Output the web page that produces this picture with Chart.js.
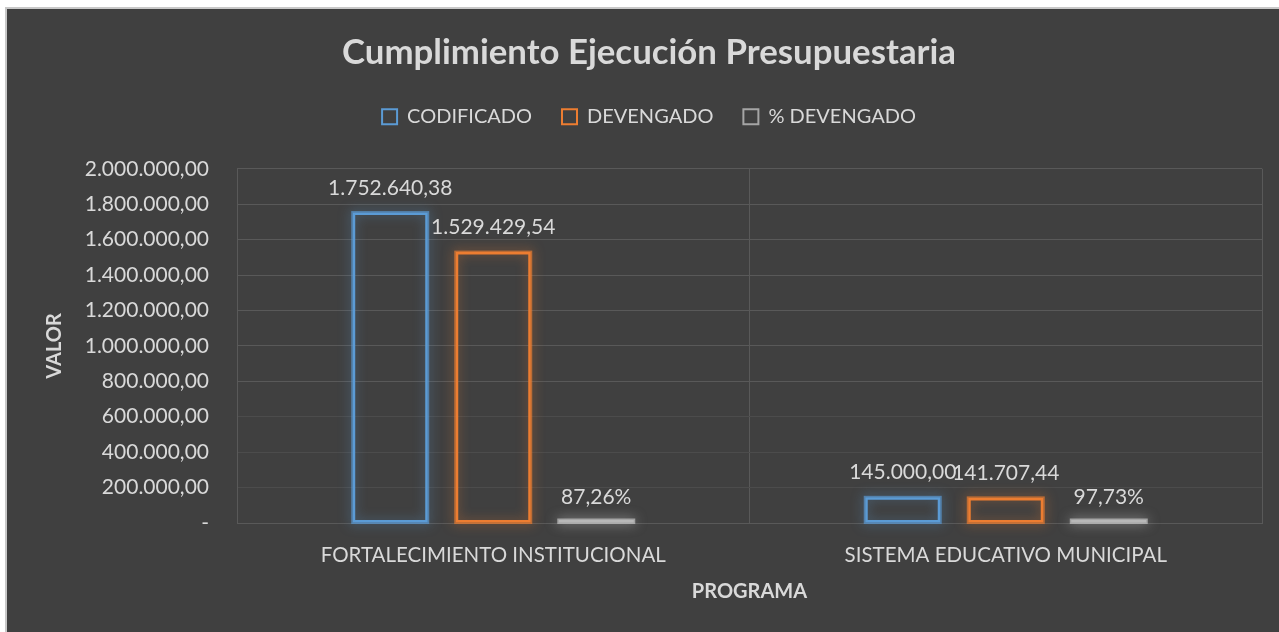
<!DOCTYPE html>
<html><head><meta charset="utf-8">
<script src="https://cdn.jsdelivr.net/npm/chart.js@4.4.1/dist/chart.umd.min.js"></script>
<style>html,body{margin:0;padding:0;background:#fff;overflow:hidden}#wrap{width:1279px;height:632px;position:relative}</style>
</head><body><div id="wrap"><canvas id="c" width="1279" height="632"></canvas></div>
<script>
const chartTitle = 'Cumplimiento Ejecución Presupuestaria';
const categories = ['FORTALECIMIENTO INSTITUCIONAL', 'SISTEMA EDUCATIVO MUNICIPAL'];
const seriesNames = ['CODIFICADO', 'DEVENGADO', '% DEVENGADO'];
const codificado = [1752640.38, 145000.00];
const devengado = [1529429.54, 141707.44];
const pctDevengado = [0.8726, 0.9773];
const yMin = 0, yMax = 2000000, yStep = 200000;
const xTitle = 'PROGRAMA';
const yTitle = 'VALOR';

const BLUE = '#5b9bd5', ORANGE = '#ed7d31', GRAY = '#a5a5a5';
const TXT = '#d9d9d9';
const FONT = 'Lato, "Open Sans", sans-serif';

function fmtNum(v) {
  const p = Math.abs(v).toFixed(2).split('.');
  p[0] = p[0].replace(/\B(?=(\d{3})+(?!\d))/g, '.');
  return p.join(',');
}
function fmtPct(v) { return (v * 100).toFixed(2).replace('.', ',') + '%'; }

const bgPlugin = {
  id: 'bg',
  beforeDraw(chart) {
    const ctx = chart.ctx;
    ctx.save();
    ctx.fillStyle = '#ffffff';
    ctx.fillRect(0, 0, chart.width, chart.height);
    ctx.fillStyle = '#c8c8c8';
    ctx.fillRect(5, 7, chart.width - 5, chart.height - 7);
    ctx.fillStyle = '#404040';
    ctx.fillRect(7, 9, chart.width - 7, chart.height - 9);
    ctx.restore();
  }
};

const glowPlugin = {
  id: 'glow',
  beforeDatasetDraw(chart, args) {
    const ctx = chart.ctx;
    const ds = chart.data.datasets[args.index];
    const col = ds.glowColor;
    ctx.save();
    ctx.shadowColor = col;
    ctx.shadowBlur = 12;
    ctx.strokeStyle = col;
    ctx.lineWidth = 3;
    args.meta.data.forEach(el => {
      const p = el.getProps(['x', 'y', 'base', 'width'], true);
      const top = Math.min(p.y, p.base), h = Math.abs(p.base - p.y);
      ctx.globalAlpha = 0.75;
      ctx.strokeRect(p.x - p.width / 2, top, p.width, h);
    });
    ctx.restore();
  }
};

const labelPlugin = {
  id: 'vlabels',
  afterDatasetsDraw(chart) {
    const ctx = chart.ctx;
    ctx.save();
    ctx.font = '21px ' + FONT;
    ctx.fillStyle = TXT;
    ctx.textAlign = 'center';
    ctx.textBaseline = 'alphabetic';
    chart.data.datasets.forEach((ds, i) => {
      const meta = chart.getDatasetMeta(i);
      meta.data.forEach((el, j) => {
        const v = ds.data[j];
        const t = ds.isPct ? fmtPct(v) : fmtNum(v);
        ctx.fillText(t, el.x, Math.min(el.y, el.base) - (ds.isPct ? 16 : 18));
      });
    });
    ctx.restore();
  }
};

const legendColors = [BLUE, ORANGE, GRAY];

new Chart(document.getElementById('c'), {
  type: 'bar',
  data: {
    labels: categories,
    datasets: [
      { label: seriesNames[0], data: codificado, yAxisID: 'y', backgroundColor: 'rgba(0,0,0,0)', borderColor: BLUE, borderWidth: 2.5, borderSkipped: false, glowColor: 'rgba(91,155,213,0.9)' },
      { label: seriesNames[1], data: devengado, yAxisID: 'y', backgroundColor: 'rgba(0,0,0,0)', borderColor: ORANGE, borderWidth: 2.5, borderSkipped: false, glowColor: 'rgba(237,125,49,0.9)' },
      { label: seriesNames[2], data: pctDevengado, yAxisID: 'y', isPct: true, backgroundColor: '#b8b8b8', borderWidth: 0, minBarLength: 3, glowColor: 'rgba(200,200,200,0.9)' }
    ]
  },
  options: {
    responsive: false,
    animation: false,
    devicePixelRatio: 1,
    categoryPercentage: 0.603,
    barPercentage: 0.728,
    layout: { padding: { left: 19, right: 0, top: 0, bottom: 0 } },
    plugins: {
      tooltip: { enabled: false },
      title: {
        display: true, text: chartTitle, color: TXT,
        font: { family: FONT, size: 34.8, weight: 'bold', lineHeight: 1.2 },
        padding: { top: 32, bottom: 3 }
      },
      subtitle: {
        display: true, text: '', weight: 500,
        font: { size: 1, lineHeight: 1 },
        padding: { top: 0, bottom: 31 }
      },
      legend: {
        display: true, position: 'top', align: 'center',
        labels: {
          color: TXT, boxWidth: 15, boxHeight: 15, padding: 30,
          font: { family: FONT, size: 20 },
          generateLabels(chart) {
            return chart.data.datasets.map((ds, i) => ({
              text: ds.label, fillStyle: 'rgba(0,0,0,0)', strokeStyle: legendColors[i],
              lineWidth: 2, hidden: false, datasetIndex: i, fontColor: TXT
            }));
          }
        }
      }
    },
    scales: {
      x: {
        grid: { display: true, color: '#595959', lineWidth: 1, drawTicks: false, offset: true },
        border: { display: true, color: '#595959' },
        ticks: { color: TXT, font: { family: FONT, size: 20.5 }, padding: 20 },
        title: { display: true, text: xTitle, color: TXT, font: { family: FONT, size: 20, weight: 'bold', lineHeight: 1.2 }, padding: { top: 0, bottom: 28 } },
        afterFit(scale) { scale.height = 109; }
      },
      y: {
        position: 'left',
        min: yMin, max: yMax,
        grid: { color: ctx => (ctx.tick && ctx.tick.value <= 600000 && ctx.tick.value > 0) ? '#4c4c4c' : '#595959', drawTicks: false },
        border: { display: true, color: '#595959' },
        ticks: {
          stepSize: yStep, color: TXT, font: { family: FONT, size: 21 }, padding: 28,
          callback: v => v === 0 ? '-' : fmtNum(v)
        },
        title: { display: true, text: yTitle, color: TXT, font: { family: FONT, size: 20, weight: 'bold', lineHeight: 1.2 }, padding: { top: 24, bottom: 0 } },
        afterFit(scale) { scale.width = 218; }
      },
      y2: {
        type: 'linear', position: 'right', display: true,
        grid: { display: false, drawTicks: false },
        border: { display: false },
        ticks: { display: false },
        afterFit(scale) { scale.width = 17; }
      }
    }
  },
  plugins: [bgPlugin, glowPlugin, labelPlugin]
});
</script>
</body></html>
